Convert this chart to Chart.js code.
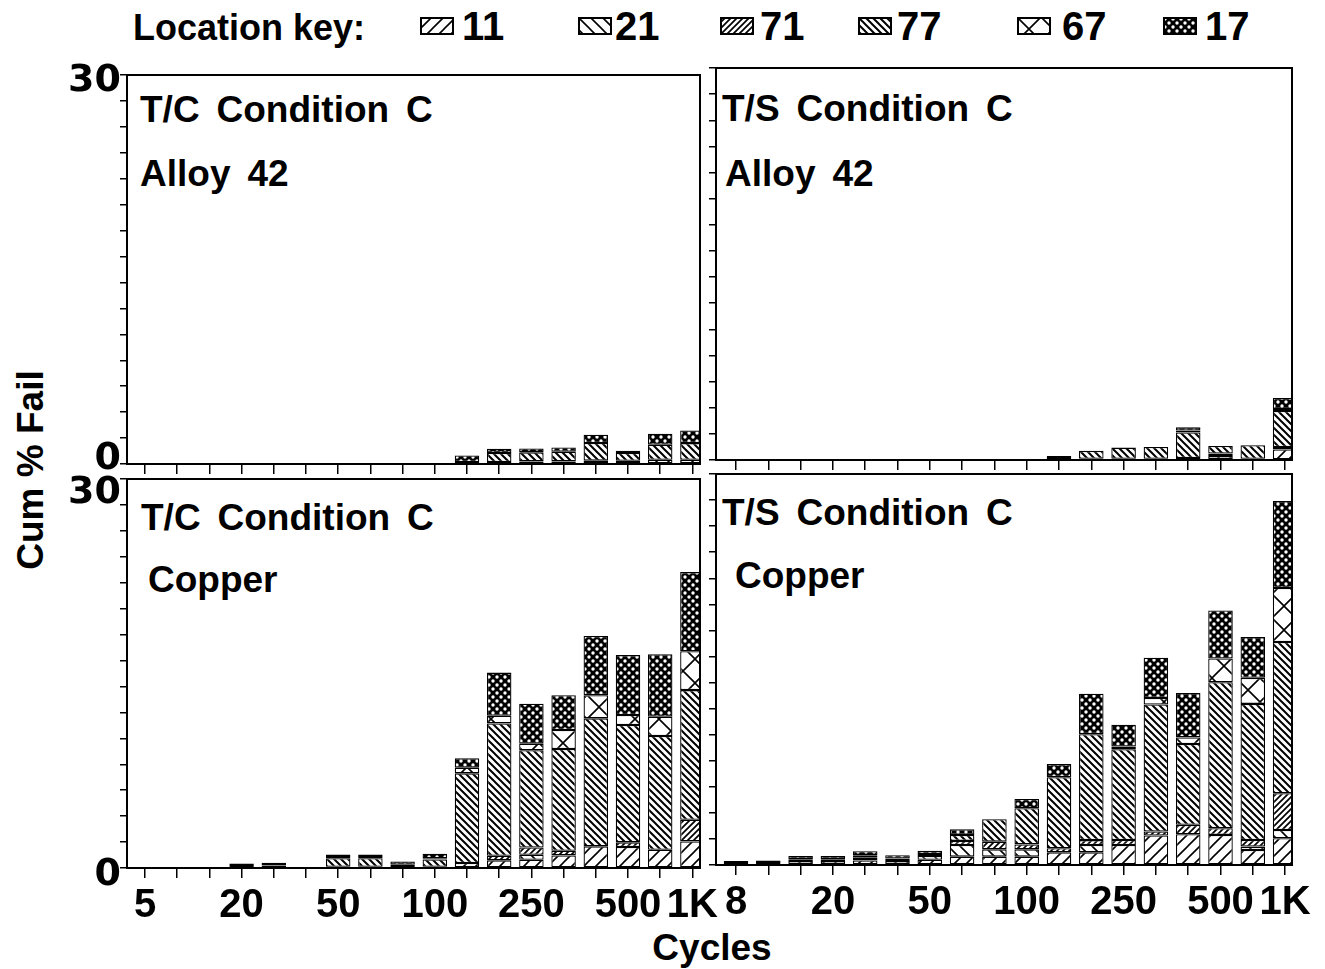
<!DOCTYPE html>
<html>
<head>
<meta charset="utf-8">
<script src="https://cdn.jsdelivr.net/npm/chart.js@4.4.1/dist/chart.umd.min.js"></script>
<style>
  html, body { margin: 0; padding: 0; background: #fff; }
  #page { position: relative; width: 1325px; height: 969px; overflow: hidden; background: #fff;
          font-family: "Liberation Sans", Arial, sans-serif; color: #000; }
  #page canvas { position: absolute; }
  .txt { position: absolute; font-weight: bold; white-space: nowrap; line-height: 1; }
  .note { font-size: 37px; word-spacing: 0.18em; }
  .key { font-size: 40px; }
</style>
</head>
<body>
<div id="page">
  <div class="txt" style="left:133px; top:10px; font-size:36px;">Location key:</div>
  <div id="keyRow"></div>

  <div class="txt note" style="left:140px; top:91px;">T/C Condition C</div>
  <div class="txt note" style="left:140px; top:155px;">Alloy 42</div>
  <div class="txt note" style="left:722px; top:90px;">T/S Condition C</div>
  <div class="txt note" style="left:725px; top:155px;">Alloy 42</div>
  <div class="txt note" style="left:141px; top:499px;">T/C Condition C</div>
  <div class="txt note" style="left:148px; top:561px;">Copper</div>
  <div class="txt note" style="left:722px; top:494px;">T/S Condition C</div>
  <div class="txt note" style="left:735px; top:557px;">Copper</div>

  <div class="txt" style="left:30px; top:470px; font-size:37px; transform:translate(-50%,-50%) rotate(-90deg);">Cum % Fail</div>
  <div class="txt" style="left:712px; top:929px; font-size:37px; transform:translateX(-50%);">Cycles</div>

  <canvas id="tcAlloy"></canvas>
  <canvas id="tsAlloy"></canvas>
  <canvas id="tcCopper"></canvas>
  <canvas id="tsCopper"></canvas>
</div>

<script>
// failure locations, stacked bottom -> top
const locations = ['11', '21', '71', '77', '67', '17'];

// cycle categories (only every third one is labelled)
const cyclesTC = ['5', '', '', '20', '', '', '50', '', '', '100', '', '', '250', '', '', '500', '', '1K'];
const cyclesTS = ['8', '', '', '20', '', '', '50', '', '', '100', '', '', '250', '', '', '500', '', '1K'];
const yTickValues = [0, 2, 4, 6, 8, 10, 12, 14, 16, 18, 20, 22, 24, 26, 28, 30];
const yTickLabels = [0, 30];

// T/C condition C, Alloy 42  (cum % fail)
const tcAlloy11 = [0, 0, 0, 0, 0, 0, 0, 0, 0, 0, 0, 0.15, 0.2, 0.2, 0.26, 0.25, 0.33, 0.33];
const tcAlloy21 = [0, 0, 0, 0, 0, 0, 0, 0, 0, 0, 0, 0, 0, 0, 0, 0, 0, 0];
const tcAlloy71 = [0, 0, 0, 0, 0, 0, 0, 0, 0, 0, 0, 0, 0, 0, 0, 0, 0, 0];
const tcAlloy77 = [0, 0, 0, 0, 0, 0, 0, 0, 0, 0, 0.15, 0.7, 0.7, 0.75, 1.36, 0.6, 1.15, 1.28];
const tcAlloy67 = [0, 0, 0, 0, 0, 0, 0, 0, 0, 0, 0, 0, 0, 0, 0, 0, 0, 0];
const tcAlloy17 = [0, 0, 0, 0, 0, 0, 0, 0, 0, 0, 0.5, 0.33, 0.3, 0.33, 0.64, 0.18, 0.85, 0.97];

// T/S condition C, Alloy 42
const tsAlloy11 = [0, 0, 0, 0, 0, 0, 0, 0, 0, 0, 0.15, 0.1, 0.1, 0.1, 0.15, 0.3, 0.1, 0.8];
const tsAlloy21 = [0, 0, 0, 0, 0, 0, 0, 0, 0, 0, 0, 0, 0, 0, 0, 0.2, 0, 0];
const tsAlloy71 = [0, 0, 0, 0, 0, 0, 0, 0, 0, 0, 0.15, 0, 0, 0, 0, 0, 0, 0.2];
const tsAlloy77 = [0, 0, 0, 0, 0, 0, 0, 0, 0, 0, 0, 0.6, 0.85, 0.9, 1.95, 0.58, 1.03, 2.75];
const tsAlloy67 = [0, 0, 0, 0, 0, 0, 0, 0, 0, 0, 0, 0, 0, 0, 0.15, 0, 0, 0.15];
const tsAlloy17 = [0, 0, 0, 0, 0, 0, 0, 0, 0, 0, 0, 0, 0, 0, 0.25, 0, 0, 0.85];

// T/C condition C, Copper
const tcCopper11 = [0, 0, 0, 0.15, 0.2, 0, 0.1, 0.1, 0, 0.1, 0.38, 0.59, 0.64, 0.97, 1.67, 1.62, 1.41, 2.05];
const tcCopper21 = [0, 0, 0, 0, 0, 0, 0, 0, 0, 0, 0, 0, 0.38, 0, 0, 0, 0, 0];
const tcCopper71 = [0, 0, 0, 0.2, 0.2, 0, 0, 0, 0.25, 0, 0, 0.36, 0.56, 0.36, 0, 0.36, 0, 1.67];
const tcCopper77 = [0, 0, 0, 0, 0, 0, 0.65, 0.65, 0, 0.55, 6.92, 10.2, 7.5, 7.85, 9.87, 9.05, 8.77, 10.0];
const tcCopper67 = [0, 0, 0, 0, 0, 0, 0.1, 0.1, 0, 0.1, 0.44, 0.59, 0.51, 1.46, 1.79, 0.77, 1.49, 3.0];
const tcCopper17 = [0, 0, 0, 0, 0, 0, 0.2, 0.2, 0.25, 0.35, 0.72, 3.33, 3.08, 2.69, 4.56, 4.62, 4.82, 6.1];

// T/S condition C, Copper
const tsCopper11 = [0.15, 0.15, 0.3, 0.3, 0.35, 0.3, 0.4, 0.64, 0.64, 0.64, 0.97, 0.97, 1.54, 2.26, 2.36, 2.31, 1.15, 2.05];
const tsCopper21 = [0, 0, 0, 0, 0.2, 0, 0.3, 0.9, 0.56, 0.56, 0, 0.56, 0, 0, 0, 0, 0.26, 0.64];
const tsCopper71 = [0.15, 0.2, 0.15, 0.15, 0.2, 0.2, 0.15, 0.31, 0.59, 0.38, 0.31, 0.38, 0.38, 0.31, 0.72, 0.51, 0.51, 2.82];
const tsCopper77 = [0, 0, 0, 0, 0, 0, 0, 0.46, 1.72, 2.77, 5.46, 8.13, 6.97, 9.74, 6.2, 11.2, 10.44, 11.6];
const tsCopper67 = [0, 0, 0, 0, 0, 0, 0, 0, 0, 0, 0, 0, 0.2, 0.51, 0.51, 1.82, 2.0, 4.15];
const tsCopper17 = [0, 0, 0.25, 0.25, 0.3, 0.25, 0.25, 0.44, 0, 0.72, 1.0, 3.1, 1.67, 3.08, 3.41, 3.69, 3.13, 6.67];

// ---- hatch fills ----
function hatchTile(kind) {
  const c = document.createElement('canvas');
  const s = { fwd: 12, back: 12, fwdDense: 6, backDense: 7, cross: 24, dark: 8 }[kind];
  c.width = s; c.height = s;
  const g = c.getContext('2d');
  g.fillStyle = '#fff';
  g.fillRect(0, 0, s, s);
  g.strokeStyle = '#000';
  g.lineWidth = kind === 'backDense' ? 2 : (kind === 'fwdDense' ? 1.7 : 1.6);
  const fwd = () => { g.moveTo(0, s); g.lineTo(s, 0); g.moveTo(-1, 1); g.lineTo(1, -1); g.moveTo(s - 1, s + 1); g.lineTo(s + 1, s - 1); };
  const back = () => { g.moveTo(0, 0); g.lineTo(s, s); g.moveTo(s - 1, -1); g.lineTo(s + 1, 1); g.moveTo(-1, s - 1); g.lineTo(1, s + 1); };
  g.beginPath();
  if (kind === 'fwd' || kind === 'fwdDense') fwd();
  if (kind === 'back' || kind === 'backDense') back();
  if (kind === 'cross') { fwd(); back(); }
  g.stroke();
  if (kind === 'dark') {
    g.fillStyle = '#000';
    g.fillRect(0, 0, s, s);
    g.fillStyle = '#fff';
    [[2, 2], [6, 6]].forEach(([x, y]) => { g.beginPath(); g.arc(x, y, 1.7, 0, Math.PI * 2); g.fill(); });
  }
  return c;
}
const patternKinds = ['fwd', 'back', 'fwdDense', 'backDense', 'cross', 'dark'];
const tiles = patternKinds.map(hatchTile);
const patterns = tiles.map(t => document.createElement('canvas').getContext('2d').createPattern(t, 'repeat'));

// ---- location key ----
const keySwatchX = [420, 578, 720, 858, 1017, 1163];
const keyLabelX = [462, 615, 760, 897, 1062, 1205];
const keyRow = document.getElementById('keyRow');
locations.forEach((loc, k) => {
  const sw = document.createElement('canvas');
  sw.width = 34; sw.height = 18;
  sw.style.left = keySwatchX[k] + 'px';
  sw.style.top = '17px';
  const g = sw.getContext('2d');
  g.fillStyle = g.createPattern(tiles[k], 'repeat');
  g.fillRect(0, 0, 34, 18);
  g.strokeStyle = '#000'; g.lineWidth = 2;
  g.strokeRect(1, 1, 32, 16);
  keyRow.appendChild(sw);
  const lb = document.createElement('div');
  lb.className = 'txt key';
  lb.style.left = keyLabelX[k] + 'px';
  lb.style.top = '6px';
  lb.textContent = loc;
  keyRow.appendChild(lb);
});

// ---- panels ----
const PAD_L = 80, PAD_T = 12, PAD_R = 30, PAD_B = 80;

const framePlugin = {
  id: 'frame',
  afterDraw(chart, args, opts) {
    const { ctx, chartArea: a } = chart;
    ctx.save();
    ctx.strokeStyle = '#000';
    ctx.lineWidth = 2;
    ctx.strokeRect(a.left, a.top, a.right - a.left, a.bottom - a.top);
    if (opts.yShift) {
      ctx.font = 'bold 38px "DejaVu Sans", sans-serif';
      ctx.fillStyle = '#000';
      ctx.textAlign = 'right';
      ctx.textBaseline = 'middle';
      yTickLabels.forEach((v, i) => {
        ctx.fillText(String(v), a.left - 6, chart.scales.y.getPixelForValue(v) + opts.yShift[i]);
      });
    }
    ctx.restore();
  }
};

const panels = [
  { id: 'tcAlloy', box: [127, 75, 700, 464], first: 145, pitch: 32.2, cats: cyclesTC, showX: false, yShift: [-5, 6],
    series: [tcAlloy11, tcAlloy21, tcAlloy71, tcAlloy77, tcAlloy67, tcAlloy17] },
  { id: 'tsAlloy', box: [716, 68, 1292, 460], first: 736, pitch: 32.3, cats: cyclesTS, showX: false, yShift: null,
    series: [tsAlloy11, tsAlloy21, tsAlloy71, tsAlloy77, tsAlloy67, tsAlloy17] },
  { id: 'tcCopper', box: [127, 479, 700, 868], first: 145, pitch: 32.2, cats: cyclesTC, showX: true, yShift: [7, 14],
    series: [tcCopper11, tcCopper21, tcCopper71, tcCopper77, tcCopper67, tcCopper17] },
  { id: 'tsCopper', box: [716, 474, 1292, 865], first: 736, pitch: 32.3, cats: cyclesTS, showX: true, yShift: null,
    series: [tsCopper11, tsCopper21, tsCopper71, tsCopper77, tsCopper67, tsCopper17] }
];

panels.forEach(p => {
  const [L, T, R, B] = p.box;
  const cv = document.getElementById(p.id);
  cv.width = (R - L) + PAD_L + PAD_R;
  cv.height = (B - T) + PAD_T + PAD_B;
  cv.style.left = (L - PAD_L) + 'px';
  cv.style.top = (T - PAD_T) + 'px';

  const datasets = p.series.map((vals, k) => ({
    label: locations[k],
    data: vals.map((v, i) => ({ x: i, y: v > 0 ? v : null })),
    backgroundColor: patterns[k],
    borderColor: '#000',
    borderWidth: 1.3,
    borderSkipped: false,
    barPercentage: 0.76,
    categoryPercentage: 1
  }));

  new Chart(cv, {
    type: 'bar',
    data: { datasets },
    plugins: [framePlugin],
    options: {
      responsive: false,
      animation: false,
      events: [],
      layout: { padding: { top: PAD_T, right: PAD_R, left: 0, bottom: 0 } },
      plugins: {
        legend: { display: false },
        tooltip: { enabled: false },
        frame: { yShift: p.yShift }
      },
      scales: {
        x: {
          type: 'linear',
          stacked: true,
          offset: false,
          min: (L - p.first) / p.pitch,
          max: (R - p.first) / p.pitch,
          afterBuildTicks: s => { s.ticks = p.cats.map((c, i) => ({ value: i })); },
          afterFit: s => { s.height = PAD_B; },
          grid: { offset: false, drawOnChartArea: false, drawTicks: true, tickLength: 10, color: '#000', lineWidth: 1.5 },
          border: { display: true, color: '#000', width: 2 },
          ticks: {
            display: p.showX, autoSkip: false, maxRotation: 0, padding: 4, color: '#000',
            font: { family: '"Liberation Sans", Arial, sans-serif', size: 40, weight: 'bold' },
            callback: v => p.cats[v] ?? ''
          }
        },
        y: {
          stacked: true,
          min: 0,
          max: 30,
          afterBuildTicks: s => { s.ticks = yTickValues.map(v => ({ value: v })); },
          afterFit: s => { s.width = PAD_L; },
          grid: { drawOnChartArea: false, drawTicks: true, tickLength: 7, color: '#000', lineWidth: 1.5 },
          border: { display: true, color: '#000', width: 2 },
          ticks: { display: false }
        }
      }
    }
  });
});
</script>
</body>
</html>
